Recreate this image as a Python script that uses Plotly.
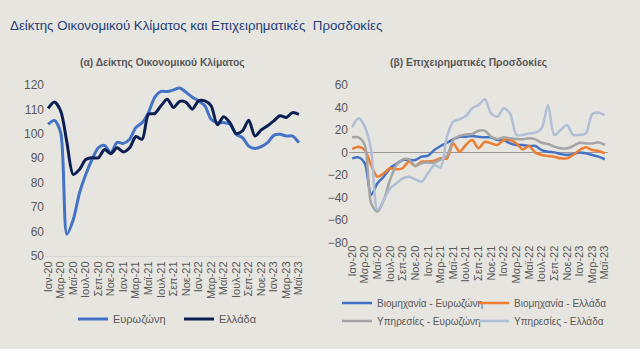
import plotly.graph_objects as go

months_gr = ["Ιαν", "Φεβ", "Μαρ", "Απρ", "Μαϊ", "Ιουν", "Ιουλ", "Αυγ", "Σεπ", "Οκτ", "Νοε", "Δεκ"]
periods = [f"{months_gr[i % 12]}-{20 + i // 12}" for i in range(41)]
tick_idx = list(range(0, 41, 2))
tick_labels = [periods[i] for i in tick_idx]

esi_ez = [103.9, 105.5, 100.5, 59.0, 64.8, 75.8, 83.4, 89.5, 94.3, 95.3, 92.3, 96.5, 96.1, 97.8,
          102.6, 104.6, 108.7, 114.9, 117.4, 117.3, 118.0, 118.8, 117.0, 115.0, 113.5, 111.5,
          106.0, 104.6, 104.6, 104.0, 99.8, 98.5, 95.0, 94.0, 94.8, 96.4, 99.4, 99.8, 99.1, 99.1, 96.4]
esi_gr = [110.4, 113.0, 109.4, 96.4, 83.4, 85.4, 89.5, 90.2, 90.2, 93.6, 91.9, 94.3, 92.6, 94.3,
          98.9, 97.8, 108.0, 108.3, 111.5, 114.2, 110.8, 113.3, 112.9, 110.1, 113.5, 113.5,
          111.5, 103.7, 107.0, 104.6, 100.2, 101.2, 105.6, 99.1, 101.6, 103.3, 105.3, 107.4,
          106.7, 108.7, 108.0]

ind_ez = [-5.2, -4.3, -9.6, -37.8, -27.4, -21.5, -14.0, -10.2, -6.7, -6.7, -6.7, -3.7, -2.8, 2.2,
          5.8, 8.7, 11.7, 14.0, 14.0, 14.7, 14.0, 13.5, 13.5, 11.1, 11.1, 8.1, 6.7, 6.7, 5.8, 5.8,
          2.2, 0.7, 0.1, -1.3, -2.2, -1.3, 0.1, -0.7, -2.2, -3.7, -6.0]
ind_gr = [3.1, 5.2, 2.2, -11.1, -21.5, -18.5, -14.0, -15.0, -14.0, -8.1, -12.0, -8.1, -8.1, -7.3,
          -5.2, -5.2, 8.1, 0.7, 6.7, 11.1, 3.7, 9.6, 8.1, 6.7, 11.1, 11.1, 8.1, 2.8, 5.8, -0.1,
          -2.2, -3.1, -3.7, -5.2, -5.2, -2.2, 2.2, 4.6, 2.2, 1.3, -0.7]
srv_ez = [13.5, 13.5, 6.7, -45.0, -52.6, -42.2, -24.4, -11.1, -6.1, -6.1, -12.0, -9.6, -9.0, -9.0,
          -6.1, -3.1, 11.1, 14.7, 16.1, 16.4, 19.4, 19.4, 14.0, 11.9, 13.5, 12.6, 11.9, 11.7, 12.6,
          11.7, 8.7, 7.5, 5.2, 3.7, 3.7, 5.8, 8.7, 8.1, 8.1, 9.0, 6.7]
srv_gr = [22.4, 30.4, 23.0, 2.2, -51.0, -42.2, -31.9, -27.4, -23.0, -21.5, -23.9, -25.9, -18.5,
          -11.1, -13.2, 14.0, 27.4, 29.5, 32.4, 39.3, 42.2, 47.3, 34.8, 31.9, 39.3, 34.8, 15.6,
          15.6, 17.0, 17.6, 21.5, 42.2, 15.6, 20.0, 24.4, 15.6, 15.6, 17.0, 34.2, 35.4, 33.3]

x = list(range(41))
BG = "#e6e5e0"
TXT = "#595959"
FONT = "Liberation Sans, Arial, sans-serif"

fig = go.Figure()

def add(y, name, color, xa, ya, legend, width):
    fig.add_trace(go.Scatter(x=x, y=y, name=name, mode="lines", line=dict(color=color, width=width, shape="spline", smoothing=0.8),
                             xaxis=xa, yaxis=ya, legend=legend))

add(esi_ez, "Ευρωζώνη", "#4472c4", "x", "y", "legend", 3)
add(esi_gr, "Ελλάδα", "#0c1f52", "x", "y", "legend", 3)
add(ind_ez, "Βιομηχανία - Ευρωζώνη", "#4472c4", "x2", "y2", "legend2", 2.5)
add(ind_gr, "Βιομηχανία - Ελλάδα", "#ed7d31", "x2", "y2", "legend2", 2.5)
add(srv_ez, "Υπηρεσίες - Ευρωζώνη", "#a5a5a5", "x2", "y2", "legend3", 2.5)
add(srv_gr, "Υπηρεσίες - Ελλάδα", "#b0bfd6", "x2", "y2", "legend3", 2.5)

W, H = 640, 353
def dx(px): return px / W
def dy(py): return 1 - py / H

xcommon = dict(tickmode="array", tickvals=tick_idx, ticktext=tick_labels, tickangle=-90,
               tickfont=dict(size=11, color=TXT, family=FONT), showgrid=False, zeroline=False,
               range=[-0.5, 40.5], ticks="", fixedrange=True, automargin=False)

fig.update_layout(
    width=W, height=H, margin=dict(l=0, r=0, t=0, b=0, autoexpand=False),
    paper_bgcolor=BG, plot_bgcolor=BG,
    font=dict(family=FONT, color=TXT),
    xaxis=dict(domain=[dx(45), dx(302)], anchor="y", showline=True, linecolor="#d6d6d4", linewidth=1, **xcommon),
    yaxis=dict(domain=[dy(256), dy(85)], range=[50, 120], dtick=10, showgrid=False, zeroline=False,
               tickfont=dict(size=12, color=TXT, family=FONT), anchor="x", automargin=False),
    xaxis2=dict(domain=[dx(349), dx(608)], anchor="y2", showline=False, **xcommon),
    yaxis2=dict(domain=[dy(242.5), dy(85)], range=[-80, 60], dtick=20, showgrid=False, zeroline=True,
                zerolinecolor="#999999", zerolinewidth=1.2,
                tickfont=dict(size=12, color=TXT, family=FONT), anchor="x2", automargin=False),
    legend=dict(orientation="h", x=dx(73), y=dy(319), yanchor="middle", xanchor="left",
                font=dict(size=11, color=TXT, family=FONT), bgcolor="rgba(0,0,0,0)",
                entrywidth=61, entrywidthmode="pixels"),
    legend2=dict(orientation="h", x=dx(337), y=dy(303), yanchor="middle", xanchor="left",
                 font=dict(size=10, color=TXT, family=FONT), bgcolor="rgba(0,0,0,0)",
                 entrywidth=92, entrywidthmode="pixels"),
    legend3=dict(orientation="h", x=dx(337), y=dy(321), yanchor="middle", xanchor="left",
                 font=dict(size=10, color=TXT, family=FONT), bgcolor="rgba(0,0,0,0)",
                 entrywidth=92, entrywidthmode="pixels"),
    showlegend=True,
)

fig.add_annotation(text="Δείκτης Οικονομικού Κλίματος και Επιχειρηματικές  Προσδοκίες", x=dx(8), y=dy(25),
                   xref="paper", yref="paper", xanchor="left", yanchor="middle", showarrow=False,
                   font=dict(size=13.3, color="#1f3e7a", family=FONT))
fig.add_annotation(text="<b>(α) Δείκτης Οικονομικού Κλίματος</b>", x=dx(162), y=dy(63),
                   xref="paper", yref="paper", xanchor="center", yanchor="middle", showarrow=False,
                   font=dict(size=10.3, color=TXT, family=FONT))
fig.add_annotation(text="<b>(β) Επιχειρηματικές Προσδοκίες</b>", x=dx(468), y=dy(63),
                   xref="paper", yref="paper", xanchor="center", yanchor="middle", showarrow=False,
                   font=dict(size=10.3, color=TXT, family=FONT))
fig.add_shape(type="rect", xref="paper", yref="paper", x0=0, x1=1, y0=0, y1=dy(349),
              fillcolor="white", line=dict(width=0), layer="below")

fig.write_html("out.html")
